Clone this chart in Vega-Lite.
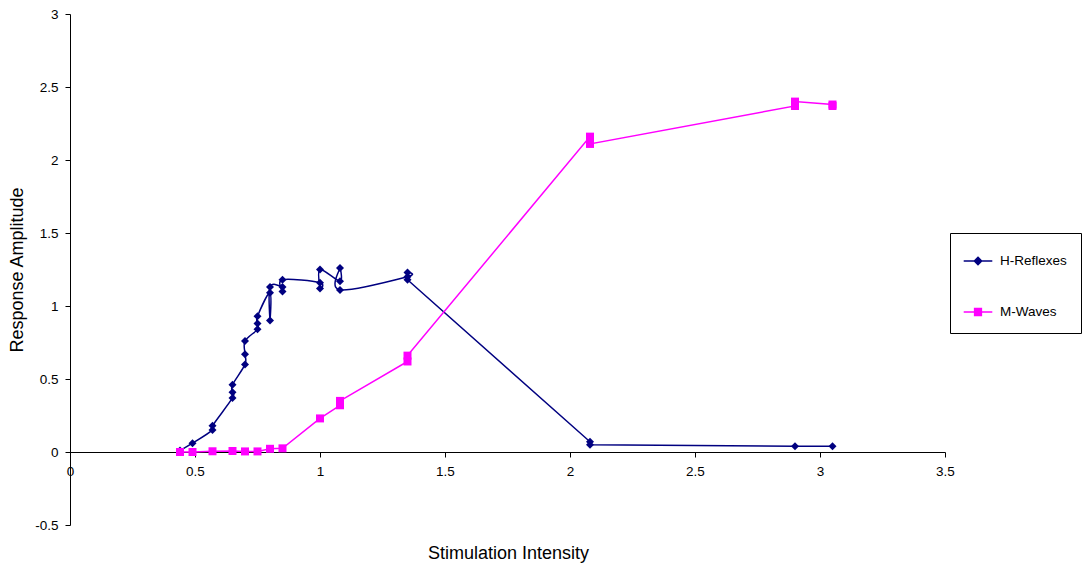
{
  "$schema": "https://vega.github.io/schema/vega-lite/v6.json",
  "width": 875,
  "height": 511,
  "autosize": "none",
  "padding": {"left": 70, "top": 14, "right": 140, "bottom": 42},
  "background": "white",
  "config": {
    "view": {"stroke": null},
    "font": "Liberation Sans",
    "axis": {
      "grid": false,
      "labelFlush": false,
      "domainColor": "black",
      "tickColor": "black",
      "tickSize": 5,
      "labelFontSize": 13.5,
      "labelColor": "black",
      "labelPadding": 7,
      "titleFontSize": 18,
      "titleFontWeight": "normal",
      "titleColor": "black"
    }
  },
  "data": {
    "values": [
      {"series": "H-Reflexes", "i": 1, "x": 0.44, "y": 0.01},
      {"series": "H-Reflexes", "i": 2, "x": 0.49, "y": 0.06},
      {"series": "H-Reflexes", "i": 3, "x": 0.57, "y": 0.15},
      {"series": "H-Reflexes", "i": 4, "x": 0.57, "y": 0.18},
      {"series": "H-Reflexes", "i": 5, "x": 0.65, "y": 0.37},
      {"series": "H-Reflexes", "i": 6, "x": 0.65, "y": 0.41},
      {"series": "H-Reflexes", "i": 7, "x": 0.65, "y": 0.46},
      {"series": "H-Reflexes", "i": 8, "x": 0.70, "y": 0.60},
      {"series": "H-Reflexes", "i": 9, "x": 0.70, "y": 0.67},
      {"series": "H-Reflexes", "i": 10, "x": 0.70, "y": 0.76},
      {"series": "H-Reflexes", "i": 11, "x": 0.75, "y": 0.84},
      {"series": "H-Reflexes", "i": 12, "x": 0.75, "y": 0.88},
      {"series": "H-Reflexes", "i": 13, "x": 0.75, "y": 0.93},
      {"series": "H-Reflexes", "i": 14, "x": 0.80, "y": 1.09},
      {"series": "H-Reflexes", "i": 15, "x": 0.80, "y": 0.90},
      {"series": "H-Reflexes", "i": 16, "x": 0.80, "y": 1.13},
      {"series": "H-Reflexes", "i": 17, "x": 0.85, "y": 1.13},
      {"series": "H-Reflexes", "i": 18, "x": 0.85, "y": 1.10},
      {"series": "H-Reflexes", "i": 19, "x": 0.85, "y": 1.18},
      {"series": "H-Reflexes", "i": 20, "x": 1.00, "y": 1.16},
      {"series": "H-Reflexes", "i": 21, "x": 1.00, "y": 1.12},
      {"series": "H-Reflexes", "i": 22, "x": 1.00, "y": 1.25},
      {"series": "H-Reflexes", "i": 23, "x": 1.08, "y": 1.17},
      {"series": "H-Reflexes", "i": 24, "x": 1.08, "y": 1.26},
      {"series": "H-Reflexes", "i": 25, "x": 1.08, "y": 1.11},
      {"series": "H-Reflexes", "i": 26, "x": 1.35, "y": 1.20},
      {"series": "H-Reflexes", "i": 27, "x": 1.35, "y": 1.23},
      {"series": "H-Reflexes", "i": 28, "x": 1.35, "y": 1.18},
      {"series": "H-Reflexes", "i": 29, "x": 2.08, "y": 0.07},
      {"series": "H-Reflexes", "i": 30, "x": 2.08, "y": 0.05},
      {"series": "H-Reflexes", "i": 31, "x": 2.90, "y": 0.04},
      {"series": "H-Reflexes", "i": 32, "x": 3.05, "y": 0.04},
      {"series": "M-Waves", "i": 1, "x": 0.44, "y": 0.0},
      {"series": "M-Waves", "i": 2, "x": 0.49, "y": 0.0},
      {"series": "M-Waves", "i": 3, "x": 0.57, "y": 0.005},
      {"series": "M-Waves", "i": 4, "x": 0.65, "y": 0.007},
      {"series": "M-Waves", "i": 5, "x": 0.70, "y": 0.004},
      {"series": "M-Waves", "i": 6, "x": 0.75, "y": 0.004},
      {"series": "M-Waves", "i": 7, "x": 0.80, "y": 0.022},
      {"series": "M-Waves", "i": 8, "x": 0.85, "y": 0.025},
      {"series": "M-Waves", "i": 9, "x": 1.00, "y": 0.23},
      {"series": "M-Waves", "i": 10, "x": 1.08, "y": 0.32},
      {"series": "M-Waves", "i": 11, "x": 1.08, "y": 0.35},
      {"series": "M-Waves", "i": 12, "x": 1.35, "y": 0.62},
      {"series": "M-Waves", "i": 13, "x": 1.35, "y": 0.66},
      {"series": "M-Waves", "i": 14, "x": 2.08, "y": 2.16},
      {"series": "M-Waves", "i": 15, "x": 2.08, "y": 2.11},
      {"series": "M-Waves", "i": 16, "x": 2.90, "y": 2.37},
      {"series": "M-Waves", "i": 17, "x": 2.90, "y": 2.40},
      {"series": "M-Waves", "i": 18, "x": 3.05, "y": 2.38},
      {"series": "M-Waves", "i": 19, "x": 3.05, "y": 2.37}
    ]
  },
  "encoding": {
    "x": {
      "field": "x",
      "type": "quantitative",
      "scale": {"domain": [0, 3.5], "nice": false, "zero": false},
      "axis": {
        "values": [0, 0.5, 1, 1.5, 2, 2.5, 3, 3.5],
        "format": "~g",
        "offset": -73,
        "title": "Stimulation Intensity",
        "titleX": 438,
        "titleY": 101,
        "titleBaseline": "middle"
      }
    },
    "y": {
      "field": "y",
      "type": "quantitative",
      "scale": {"domain": [-0.5, 3], "nice": false, "zero": false},
      "axis": {
        "values": [-0.5, 0, 0.5, 1, 1.5, 2, 2.5, 3],
        "format": "~g",
        "labelExpr": "replace(datum.label, '−', '-')",
        "title": "Response Amplitude",
        "titleX": -53,
        "titleY": 255.5,
        "titleAlign": "center",
        "titleBaseline": "middle",
        "titleAngle": -90
      }
    },
    "color": {
      "field": "series",
      "type": "nominal",
      "scale": {"domain": ["H-Reflexes", "M-Waves"], "range": ["#000080", "#FF00FF"]},
      "legend": {
        "title": null,
        "orient": "none",
        "legendX": 880,
        "legendY": 219,
        "padding": 14,
        "strokeColor": "black",
        "fillColor": "white",
        "labelFontSize": 13.5,
        "labelColor": "black",
        "symbolSize": 676,
        "rowPadding": 30,
        "labelOffset": 8,
        "symbolStrokeWidth": 1.5,
        "symbolType": {"expr": "datum.value === 'H-Reflexes' ? 'M-1.1,0H1.1M0,-0.28L0.28,0L0,0.28L-0.28,0Z' : 'M-1.1,0H1.1M-0.26,-0.26H0.26V0.26H-0.26Z'"},
        "symbolFillColor": {"expr": "datum.value === 'H-Reflexes' ? '#000080' : '#FF00FF'"},
        "symbolStrokeColor": {"expr": "datum.value === 'H-Reflexes' ? '#000080' : '#FF00FF'"},
        "encode": {
          "symbols": {
            "update": {
              "shape": {"signal": "datum.value === 'H-Reflexes' ? 'M-1.1,0H1.1M0,-0.28L0.28,0L0,0.28L-0.28,0Z' : 'M-1.1,0H1.1M-0.26,-0.26H0.26V0.26H-0.26Z'"},
              "fill": {"signal": "datum.value === 'H-Reflexes' ? '#000080' : '#FF00FF'"},
              "stroke": {"signal": "datum.value === 'H-Reflexes' ? '#000080' : '#FF00FF'"},
              "opacity": {"value": 1},
              "fillOpacity": {"value": 1},
              "strokeWidth": {"value": 1.5}
            }
          }
        }
      }
    },
    "order": {"field": "i", "type": "quantitative"}
  },
  "layer": [
    {
      "transform": [{"filter": "datum.series === 'H-Reflexes' && datum.i <= 28"}],
      "mark": {"type": "line", "interpolate": "cardinal", "strokeWidth": 1.5}
    },
    {
      "transform": [{"filter": "datum.series === 'H-Reflexes' && datum.i >= 28"}],
      "mark": {"type": "line", "strokeWidth": 1.5}
    },
    {
      "transform": [{"filter": "datum.series === 'M-Waves'"}],
      "mark": {"type": "line", "strokeWidth": 1.5}
    },
    {
      "transform": [{"filter": "datum.series === 'H-Reflexes'"}],
      "mark": {"type": "point", "shape": "diamond", "filled": true, "size": 64, "opacity": 1, "strokeWidth": 0}
    },
    {
      "transform": [{"filter": "datum.series === 'M-Waves'"}],
      "mark": {"type": "point", "shape": "square", "filled": true, "size": 64, "opacity": 1, "strokeWidth": 0}
    }
  ]
}
